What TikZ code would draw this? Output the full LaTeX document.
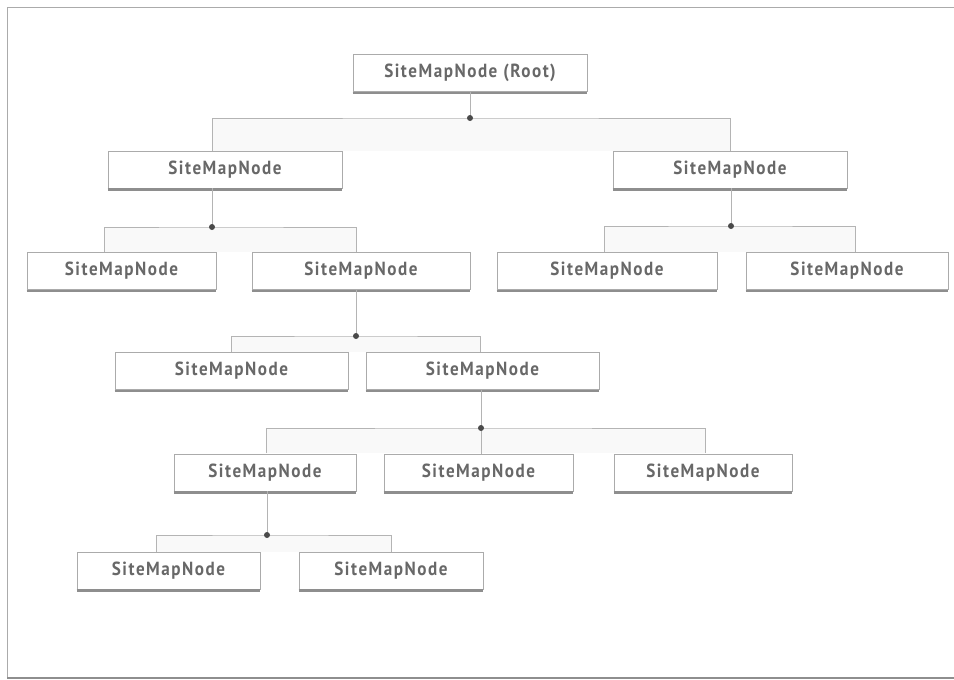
\documentclass[tikz,border=0pt]{standalone}
\usepackage{fontspec}
\newfontfamily\lblfont{PT Sans}[FakeStretch=0.9,LetterSpace=8]
\definecolor{txtgray}{HTML}{686868}
\definecolor{linegray}{HTML}{B4B4B4}
\definecolor{boxgray}{HTML}{ABABAB}
\definecolor{shadegray}{HTML}{8E8E8E}
\definecolor{dotgray}{HTML}{4A4A4A}
\definecolor{fillgray}{HTML}{F9F9F9}
\tikzset{
  smn/.style={draw=boxgray, line width=0.8pt, fill=white, minimum height=37pt,
    inner sep=0pt, font=\lblfont\bfseries\fontsize{19}{19}\selectfont, text=txtgray},
  conn/.style={draw=linegray, line width=0.9pt},
  brfill/.style={fill=fillgray, draw=none},
  jdot/.style={fill=dotgray, draw=none},
  shadowline/.style={draw=shadegray, line width=2.4pt}
}
\begin{document}
\begin{tikzpicture}[x=1pt,y=1pt]
\useasboundingbox (0,0) rectangle (954,-680);
% frame
\draw[draw=boxgray, line width=0.9pt] (7,-677) -- (7,-7) -- (954,-7);
\draw[shadowline, line width=2pt] (7,-678) -- (954,-678);

% junction coordinates
\coordinate (j1) at (470,-118);
\coordinate (j2) at (212,-227);
\coordinate (j3) at (731,-226);
\coordinate (j4) at (356,-336);
\coordinate (j5) at (481,-428);
\coordinate (j6) at (267,-535);

% bracket end points (on child tops)
\coordinate (aT) at (212,-151);
\coordinate (bT) at (730,-151);
\coordinate (cT) at (104,-252);
\coordinate (dT) at (356,-252);
\coordinate (eT) at (604,-252);
\coordinate (fT) at (855,-252);
\coordinate (gT) at (231,-352);
\coordinate (hT) at (480,-352);
\coordinate (iT) at (266,-453);
\coordinate (jT) at (481,-453);
\coordinate (kT) at (705,-453);
\coordinate (lT) at (156,-552);
\coordinate (mT) at (391,-552);

% faint fills under brackets
\fill[brfill] (aT |- j1) rectangle (bT);
\fill[brfill] (cT |- j2) rectangle (dT);
\fill[brfill] (eT |- j3) rectangle (fT);
\fill[brfill] (gT |- j4) rectangle (hT);
\fill[brfill] (iT |- j5) rectangle (kT);
\fill[brfill] (lT |- j6) rectangle (mT);

% nodes
\node[smn, minimum width=234pt] (root) at (470,-73) {SiteMapNode (Root)};
\node[smn, minimum width=234pt] (a) at (225,-169.5) {SiteMapNode};
\node[smn, minimum width=234pt] (b) at (730,-169.5) {SiteMapNode};
\node[smn, minimum width=189pt] (c) at (121.5,-271) {SiteMapNode};
\node[smn, minimum width=218pt] (d) at (361,-271) {SiteMapNode};
\node[smn, minimum width=220pt] (e) at (607,-271) {SiteMapNode};
\node[smn, minimum width=202pt] (f) at (847,-271) {SiteMapNode};
\node[smn, minimum width=233pt] (g) at (231.5,-371) {SiteMapNode};
\node[smn, minimum width=233pt] (h) at (482.5,-371) {SiteMapNode};
\node[smn, minimum width=182pt] (i) at (265,-472.5) {SiteMapNode};
\node[smn, minimum width=189pt] (j) at (478.5,-472.5) {SiteMapNode};
\node[smn, minimum width=178pt] (k) at (703,-472.5) {SiteMapNode};
\node[smn, minimum width=183pt] (l) at (168.5,-570.5) {SiteMapNode};
\node[smn, minimum width=184pt] (m) at (391,-570.5) {SiteMapNode};

% bottom shadow edges
\foreach \n in {root,a,b,c,d,e,f,g,h,i,j,k,l,m}
  \draw[shadowline] ([yshift=-1pt]\n.south west) -- ([yshift=-1pt]\n.south east);

% connectors
\draw[conn] (root.south) -- (j1);
\draw[conn] (aT) |- (j1) -| (bT);
\draw[conn] (a.south -| j2) -- (j2);
\draw[conn] (cT) |- (j2) -| (dT);
\draw[conn] (b.south -| j3) -- (j3);
\draw[conn] (eT) |- (j3) -| (fT);
\draw[conn] (d.south -| j4) -- (j4);
\draw[conn] (gT) |- (j4) -| (hT);
\draw[conn] (h.south -| j5) -- (j5);
\draw[conn] (iT) |- (j5) -| (kT);
\draw[conn] (j5) -- (j.north -| j5);
\draw[conn] (i.south -| j6) -- (j6);
\draw[conn] (lT) |- (j6) -| (mT);

% junction dots
\foreach \p in {j1,j2,j3,j4,j5,j6}
  \fill[jdot] (\p) circle (3pt);
\end{tikzpicture}
\end{document}
